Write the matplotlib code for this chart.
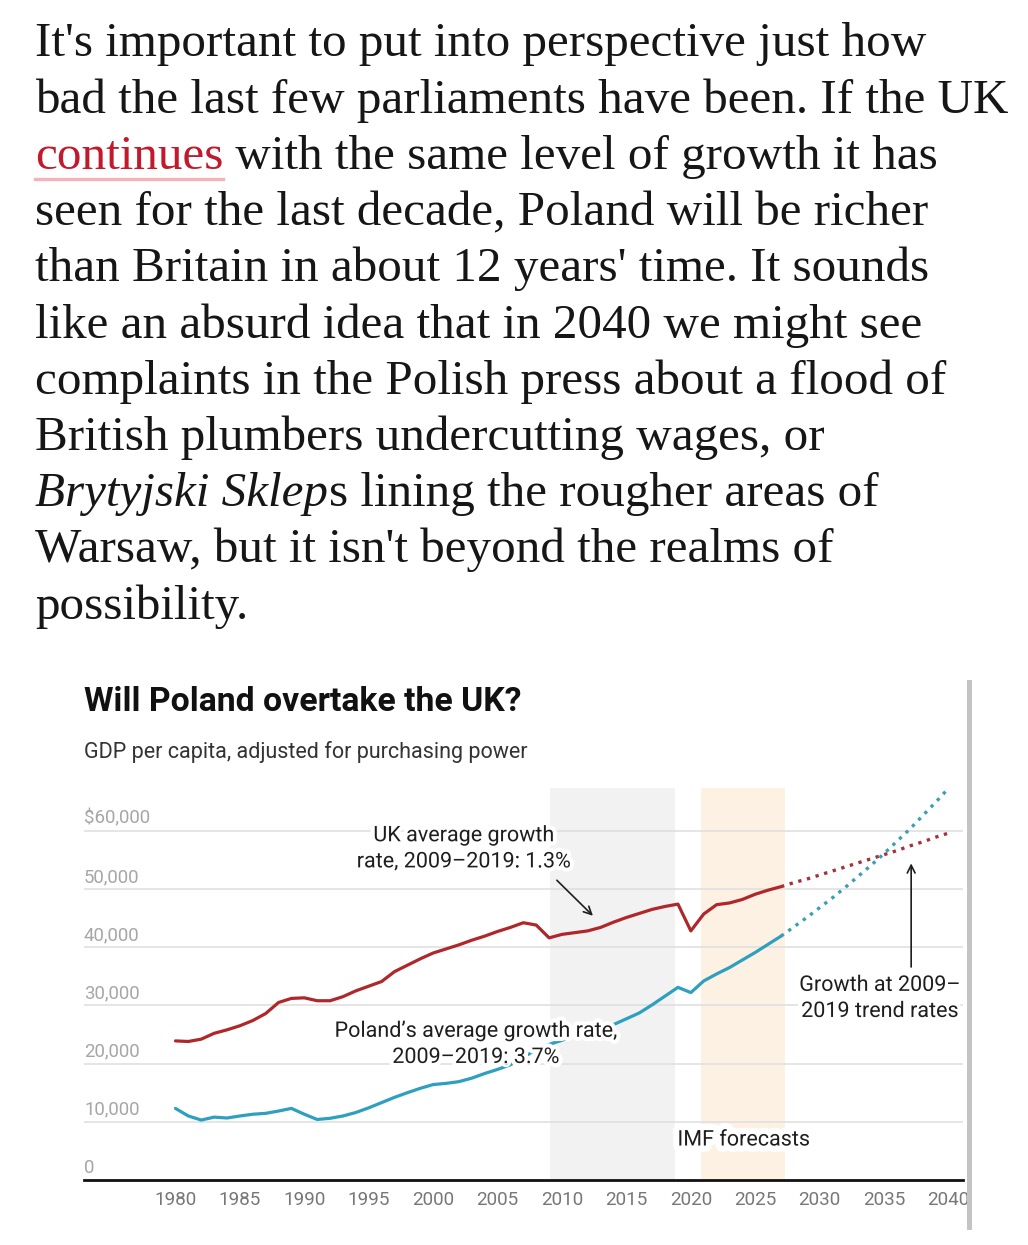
import matplotlib
matplotlib.use('Agg')
import matplotlib.pyplot as plt
import matplotlib.patheffects as pe
import matplotlib.transforms as mtransforms
from matplotlib.patches import Rectangle
from matplotlib.lines import Line2D

# ---------------- data ----------------
years = list(range(1980, 2028))
uk_gdp = [23.9, 23.8, 24.2, 25.2, 25.8, 26.5, 27.4, 28.6, 30.5, 31.2,
          31.3, 30.8, 30.8, 31.5, 32.5, 33.3, 34.1, 35.8, 36.9, 38.0,
          39.0, 39.7, 40.4, 41.2, 41.9, 42.7, 43.4, 44.2, 43.8, 41.6,
          42.2, 42.5, 42.8, 43.4, 44.3, 45.1, 45.8, 46.5, 47.0, 47.4,
          42.8, 45.7, 47.3, 47.6, 48.2, 49.1, 49.8, 50.4]
poland_gdp = [12.3, 11.0, 10.3, 10.8, 10.65, 11.0, 11.3, 11.45, 11.85, 12.3,
              11.3, 10.4, 10.6, 11.0, 11.6, 12.4, 13.3, 14.2, 15.0, 15.75,
              16.4, 16.6, 16.9, 17.5, 18.3, 19.0, 19.8, 21.0, 22.5, 23.3,
              24.0, 25.0, 25.5, 26.0, 26.7, 27.7, 28.7, 30.1, 31.6, 33.1,
              32.2, 34.2, 35.4, 36.5, 37.8, 39.1, 40.5, 41.9]
proj_years = list(range(2027, 2041))
uk_proj = [50.4, 51.1, 51.7, 52.4, 53.1, 53.8, 54.5, 55.2, 55.9, 56.6, 57.4, 58.1, 58.9, 59.6]
poland_proj = [41.9, 43.5, 45.1, 46.8, 48.5, 50.3, 52.2, 54.1, 56.1, 58.2, 60.3, 62.6, 64.9, 67.3]

y_ticks = [0, 10000, 20000, 30000, 40000, 50000, 60000]
y_labels = ['0', '10,000', '20,000', '30,000', '40,000', '50,000', '$60,000']
x_ticks = list(range(1980, 2041, 5))

paragraph = [
    "It's important to put into perspective just how",
    "bad the last few parliaments have been. If the UK",
    None,
    "seen for the last decade, Poland will be richer",
    "than Britain in about 12 years' time. It sounds",
    "like an absurd idea that in 2040 we might see",
    "complaints in the Polish press about a flood of",
    "British plumbers undercutting wages, or",
    None,
    "Warsaw, but it isn't beyond the realms of",
    "possibility.",
]

# ---------------- figure ----------------
W, H = 1028, 1245
DPI = 100
fig = plt.figure(figsize=(W / DPI, H / DPI), dpi=DPI)
fig.patch.set_facecolor('white')
renderer = fig.canvas.get_renderer()


def fx(x):
    return x / W


def fy(y):
    return 1 - y / H


SERIF = ['Liberation Serif', 'DejaVu Serif']
SANS = ['Roboto', 'DejaVu Sans']
TXT = '#161616'

# fit paragraph font size on line 2 (target width ~977 px)
probe = fig.text(0, 0, paragraph[1], fontsize=34, family=SERIF)
w = probe.get_window_extent(renderer=renderer).width
para_fs = 34 * 977.0 / w
probe.remove()

x0 = 35
base0 = 56.5
pitch = 56.2
for i, line in enumerate(paragraph):
    yb = base0 + i * pitch
    if i == 2:
        t1 = fig.text(fx(x0), fy(yb), "continues", fontsize=para_fs, family=SERIF,
                      color='#c01a2c', va='baseline')
        bb = t1.get_window_extent(renderer=renderer)
        fig.add_artist(Line2D([bb.x0 / W, bb.x1 / W], [fy(yb + 10), fy(yb + 10)],
                              transform=fig.transFigure, color='#f2b3ba', lw=2.4))
        fig.text(bb.x1 / W, fy(yb), " with the same level of growth it has", fontsize=para_fs,
                 family=SERIF, color=TXT, va='baseline')
    elif i == 8:
        t1 = fig.text(fx(x0), fy(yb), "Brytyjski Sklep", fontsize=para_fs, family=SERIF,
                      style='italic', color=TXT, va='baseline')
        bb = t1.get_window_extent(renderer=renderer)
        fig.text(bb.x1 / W + 1.0 / W, fy(yb), "s lining the rougher areas of", fontsize=para_fs,
                 family=SERIF, color=TXT, va='baseline')
    else:
        fig.text(fx(x0), fy(yb), line, fontsize=para_fs, family=SERIF, color=TXT, va='baseline')

# ---------------- chart ----------------
fig.text(fx(84), fy(711), 'Will Poland overtake the UK?', fontsize=24.3, weight='bold',
         family=SANS, color='#111111', va='baseline')
fig.text(fx(84), fy(758), 'GDP per capita, adjusted for purchasing power', fontsize=15.5,
         family=SANS, color='#333333', va='baseline')

# right grey bar
fig.add_artist(Rectangle((fx(967), fy(1230)), 5 / W, 550 / H, transform=fig.transFigure,
                         facecolor='#c4c4c4', edgecolor='none'))

left, right, top, bottom = 84, 962.7, 788, 1180
ax = fig.add_axes([left / W, fy(bottom), (right - left) / W, (bottom - top) / H])
ax.set_xlim(1972.9, 2041.1)
ax.set_ylim(0, 67350)
for s in ax.spines.values():
    s.set_visible(False)
ax.set_facecolor('none')

ax.axvspan(2009.05, 2018.8, color='#f2f2f2', zorder=0, lw=0)
ax.axvspan(2020.8, 2027.3, color='#fdf1e3', zorder=0, lw=0)
for v in y_ticks[1:]:
    ax.axhline(v, color='#dedede', lw=1.1, zorder=0.5)
ax.axhline(0, color='#111111', lw=2.0, zorder=5, clip_on=False)

trans = mtransforms.blended_transform_factory(ax.transAxes, ax.transData)
for v, lab in zip(y_ticks, y_labels):
    ax.annotate(lab, xy=(0, v), xycoords=trans, xytext=(0, 5), textcoords='offset points',
                ha='left', va='baseline', fontsize=13.4, family=SANS, color='#a6a6a6')

ax.set_xticks(x_ticks)
ax.set_xticklabels([str(x) for x in x_ticks], family=SANS, fontsize=13.6, color='#777777')
ax.tick_params(axis='x', length=0, pad=8)
ax.set_yticks([])

RED = '#b0272b'
BLUE = '#2d9fbf'
ax.plot(years, [v * 1000 for v in uk_gdp], color=RED, lw=2.3, zorder=3,
        solid_joinstyle='round', solid_capstyle='round')
ax.plot(years, [v * 1000 for v in poland_gdp], color=BLUE, lw=2.3, zorder=3,
        solid_joinstyle='round', solid_capstyle='round')
ax.plot(proj_years, [v * 1000 for v in uk_proj], color='#a3323f', lw=2.4, zorder=3,
        linestyle=(0, (1, 1.7)))
ax.plot(proj_years, [v * 1000 for v in poland_proj], color='#3a9fb5', lw=2.4, zorder=3,
        linestyle=(0, (1, 1.7)))

halo = [pe.withStroke(linewidth=6, foreground='white')]
AFS = 15.5
LS = 1.32
ax.text(2002.36, 56900, 'UK average growth\nrate, 2009\u20132019: 1.3%', ha='center', va='center',
        fontsize=AFS, family=SANS, color='#1e1e1e', path_effects=halo, zorder=6,
        linespacing=LS)
ax.text(2003.3, 23300, 'Poland\u2019s average growth rate,\n2009\u20132019: 3.7%', ha='center',
        va='center', fontsize=AFS, family=SANS, color='#1e1e1e', path_effects=halo, zorder=6,
        linespacing=LS)
ax.text(2034.66, 31200, 'Growth at 2009\u2013\n2019 trend rates', ha='center', va='center',
        fontsize=AFS, family=SANS, color='#1e1e1e', path_effects=halo, zorder=6,
        linespacing=LS)
ax.text(2024.1, 6870, 'IMF forecasts', ha='center', va='center', fontsize=AFS, family=SANS,
        color='#1e1e1e', path_effects=[pe.withStroke(linewidth=9, foreground='white')], zorder=6)

ax.annotate('', xy=(2012.4, 45400), xytext=(2009.6, 51500),
            arrowprops=dict(arrowstyle='->', color='#1e1e1e', lw=1.2, mutation_scale=14,
                            shrinkA=0, shrinkB=0), zorder=6)
ax.annotate('', xy=(2037.1, 54400), xytext=(2037.1, 36600),
            arrowprops=dict(arrowstyle='->', color='#1e1e1e', lw=1.2, mutation_scale=14,
                            shrinkA=0, shrinkB=0), zorder=6)

fig.savefig('out.png', dpi=DPI, facecolor='white')
